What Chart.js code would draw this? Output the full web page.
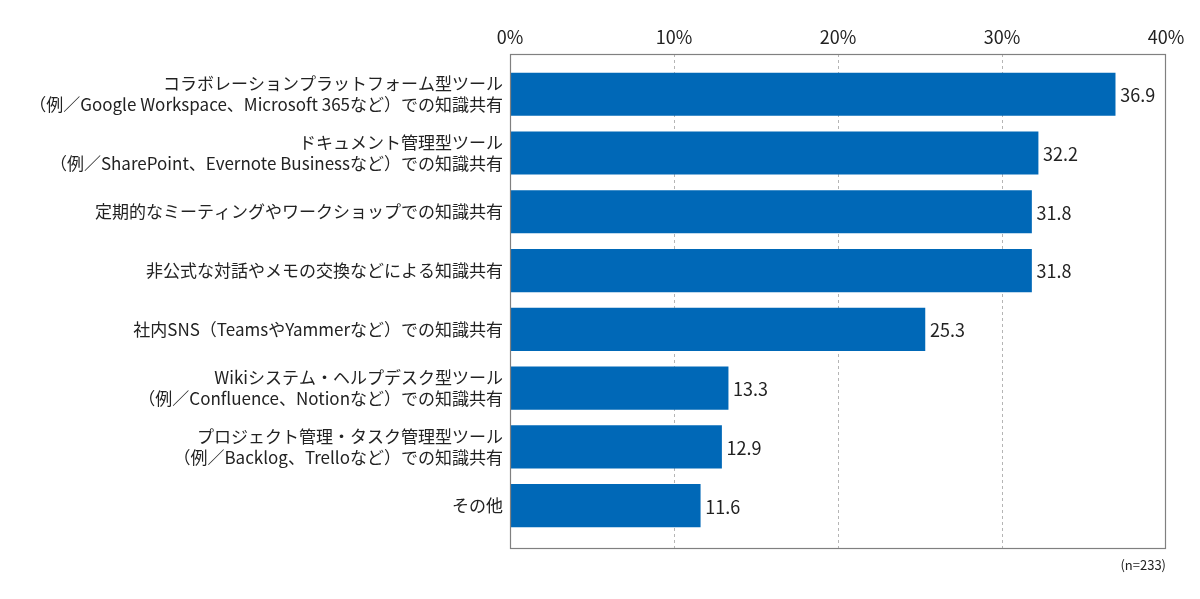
<!DOCTYPE html>
<html lang="ja">
<head>
<meta charset="utf-8">
<title>知識共有の手段</title>
<script src="https://cdn.jsdelivr.net/npm/chart.js@4.4.1/dist/chart.umd.min.js"></script>
<style>
  html, body { margin: 0; padding: 0; background: #fff; }
  #wrap { width: 1200px; height: 599px; }
</style>
</head>
<body>
<div id="wrap"><canvas id="chart" width="1200" height="599"></canvas></div>
<script>
// categories (multi-line labels as arrays)
const categories = [
  ['コラボレーションプラットフォーム型ツール', '（例／Google Workspace、Microsoft 365など）での知識共有'],
  ['ドキュメント管理型ツール', '（例／SharePoint、Evernote Businessなど）での知識共有'],
  ['定期的なミーティングやワークショップでの知識共有'],
  ['非公式な対話やメモの交換などによる知識共有'],
  ['社内SNS（TeamsやYammerなど）での知識共有'],
  ['Wikiシステム・ヘルプデスク型ツール', '（例／Confluence、Notionなど）での知識共有'],
  ['プロジェクト管理・タスク管理型ツール', '（例／Backlog、Trelloなど）での知識共有'],
  ['その他'],
];
const shares = [36.9, 32.2, 31.8, 31.8, 25.3, 13.3, 12.9, 11.6];
const xTicks = [0, 10, 20, 30, 40];
const sampleNote = '(n=233)';

Chart.defaults.font.family = '"Noto Sans CJK JP", "Noto Sans", sans-serif';
Chart.defaults.color = '#222';

// outer frame of the plot area + value labels + n note
const decorations = {
  id: 'decorations',
  afterDatasetsDraw(chart) {
    const { ctx } = chart;
    const meta = chart.getDatasetMeta(0);
    ctx.save();
    ctx.font = '18px "Noto Sans CJK JP", sans-serif';
    ctx.fillStyle = '#222';
    ctx.textBaseline = 'middle';
    ctx.textAlign = 'left';
    meta.data.forEach((bar, i) => {
      ctx.fillText(shares[i].toFixed(1), bar.x + 5, bar.y + 1);
    });
    ctx.restore();
  },
  afterDraw(chart) {
    const { ctx, chartArea } = chart;
    ctx.save();
    ctx.strokeStyle = '#808080';
    ctx.lineWidth = 1.2;
    ctx.strokeRect(chartArea.left + 0.5, chartArea.top + 0.5,
      chartArea.right - chartArea.left - 1, chartArea.bottom - chartArea.top - 1);
    ctx.font = '13px "Noto Sans CJK JP", sans-serif';
    ctx.fillStyle = '#222';
    ctx.textAlign = 'right';
    ctx.textBaseline = 'middle';
    ctx.fillText(sampleNote, chartArea.right, chartArea.bottom + 16);
    ctx.restore();
  },
};

const ctx = document.getElementById('chart').getContext('2d');
const chart = new Chart(ctx, {
  type: 'bar',
  data: {
    datasets: [
      {
        label: '知識共有の手段',
        data: shares.map((v, i) => ({ x: v, y: i })),
        backgroundColor: '#0068b7',
        borderWidth: 0,
        barThickness: 42.5,
      },
    ],
  },
  options: {
    indexAxis: 'y',
    responsive: false,
    animation: false,
    layout: { padding: { top: 0, right: 34, bottom: 50, left: 0 } },
    plugins: {
      legend: { display: false },
      tooltip: { enabled: false },
    },
    scales: {
      x: {
        type: 'linear',
        position: 'top',
        min: 0,
        max: 40,
        afterBuildTicks: (scale) => { scale.ticks = xTicks.map((v) => ({ value: v })); },
        afterFit: (scale) => { scale.height = 54; },
        ticks: {
          padding: 6,
          font: { size: 18 },
          color: '#222',
          callback: (v) => v + '%',
        },
        grid: {
          drawTicks: false,
          lineWidth: 1,
          color: (c) => (c.tick && (c.tick.value === 0 || c.tick.value === 40)) ? 'rgba(0,0,0,0)' : '#b5b5b5',
        },
        border: { display: false, dash: [3, 3] },
      },
      y: {
        type: 'linear',
        reverse: true,
        offset: false,
        min: -0.684,
        max: 7.737,
        afterBuildTicks: (scale) => { scale.ticks = categories.map((_, i) => ({ value: i })); },
        afterFit: (scale) => { scale.width = 510; },
        ticks: {
          padding: 7,
          font: { size: 17, lineHeight: 1.25 },
          color: '#222',
          callback: (v) => categories[v],
        },
        grid: { display: false, drawTicks: false, offset: false },
        border: { display: false },
      },
    },
  },
  plugins: [decorations],
});
</script>
</body>
</html>
